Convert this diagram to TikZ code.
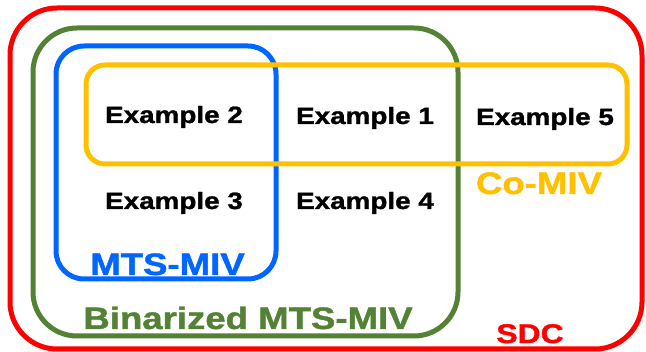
\documentclass[tikz,border=0pt]{standalone}
\usepackage{fontspec}
\setmainfont{Liberation Sans}[BoldFeatures={FakeBold=1.2}]
\usepackage{tikz}
\usetikzlibrary{positioning}

\definecolor{sdcred}{HTML}{FF0000}
\definecolor{bingreen}{HTML}{548235}
\definecolor{mtsblue}{HTML}{0066FF}
\definecolor{coyellow}{HTML}{FFC000}

\begin{document}
\begin{tikzpicture}[x=1pt, y=-1pt,
            setbox/.style={line width=5pt, rounded corners=#1},
            ex/.style={font=\fontsize{23.6}{24}\selectfont\bfseries, anchor=base, xscale=1.18},
            setlbl/.style={font=\fontsize{31}{32}\selectfont\bfseries, anchor=base, xscale=1.18},
        ]
        \useasboundingbox (0,0) rectangle (646,352);

        % the four sets
        \draw[setbox=47, sdcred]   (10, 8)  rectangle (642, 349);
        \draw[setbox=44, bingreen] (33, 28) rectangle (458, 336);
        \draw[setbox=28, mtsblue]  (56, 46) rectangle (276, 279);
        \draw[setbox=19, coyellow] (86, 65) rectangle (627, 164);

        % examples
        \node[ex] (exTwo)   at (174, 123) {Example 2};
        \node[ex] (exOne)   at (365, 124) {Example 1};
        \node[ex] (exFive)  at (545, 125) {Example 5};
        \node[ex] (exThree) at (174, 209) {Example 3};
        \node[ex] (exFour)  at (365, 209) {Example 4};

        % set names
        \node[setlbl, text=coyellow] (lblCo)  at (539, 194) {Co-MIV};
        \node[setlbl, text=mtsblue]  (lblMts) at (167.5, 275) {MTS-MIV};
        \node[setlbl, text=bingreen] (lblBin) at (248, 329) {Binarized MTS-MIV};
        \node[setlbl, text=sdcred, font=\fontsize{27}{28}\selectfont\bfseries] (lblSdc) at (530, 343) {SDC};
    \end{tikzpicture}
\end{document}
